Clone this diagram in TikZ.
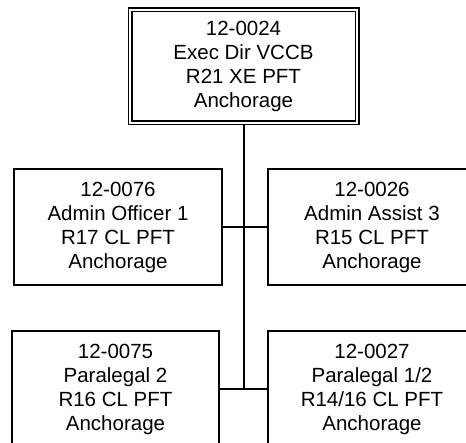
\documentclass[tikz,border=0pt]{standalone}
\usepackage{fontspec}
\setmainfont{Liberation Sans}
\begin{document}
\begin{tikzpicture}[x=1pt,y=1pt,
  posbox/.style={draw, line width=1.4pt, rectangle, inner sep=0pt, align=center,
    minimum width=208pt, minimum height=116pt,
    font=\fontsize{20.5}{24}\selectfont},
  topbox/.style={posbox, double, line width=1.2pt, double distance=2.6pt,
    minimum width=227pt, minimum height=113pt},
  conn/.style={line width=1.4pt}]
\useasboundingbox (0,0) rectangle (466,-443);
\node[topbox] (top) at (243.5,-66.5) {12-0024\\Exec Dir VCCB\\R21 XE PFT\\Anchorage};
\node[posbox] (ml) at (118,-227) {12-0076\\Admin Officer 1\\R17 CL PFT\\Anchorage};
\node[posbox] (mr) at (372,-227) {12-0026\\Admin Assist 3\\R15 CL PFT\\Anchorage};
\node[posbox, minimum width=207pt] (bl) at (115.5,-389) {12-0075\\Paralegal 2\\R16 CL PFT\\Anchorage};
\node[posbox] (br) at (372,-389) {12-0027\\Paralegal 1/2\\R14/16 CL PFT\\Anchorage};
\coordinate (j2) at (244,-389);
\draw[conn, line width=2pt] (top.south -| j2) -- (j2);
\draw[conn] (ml.east) -- (mr.west);
\draw[conn] (bl.east) -- (br.west);
\end{tikzpicture}
\end{document}
